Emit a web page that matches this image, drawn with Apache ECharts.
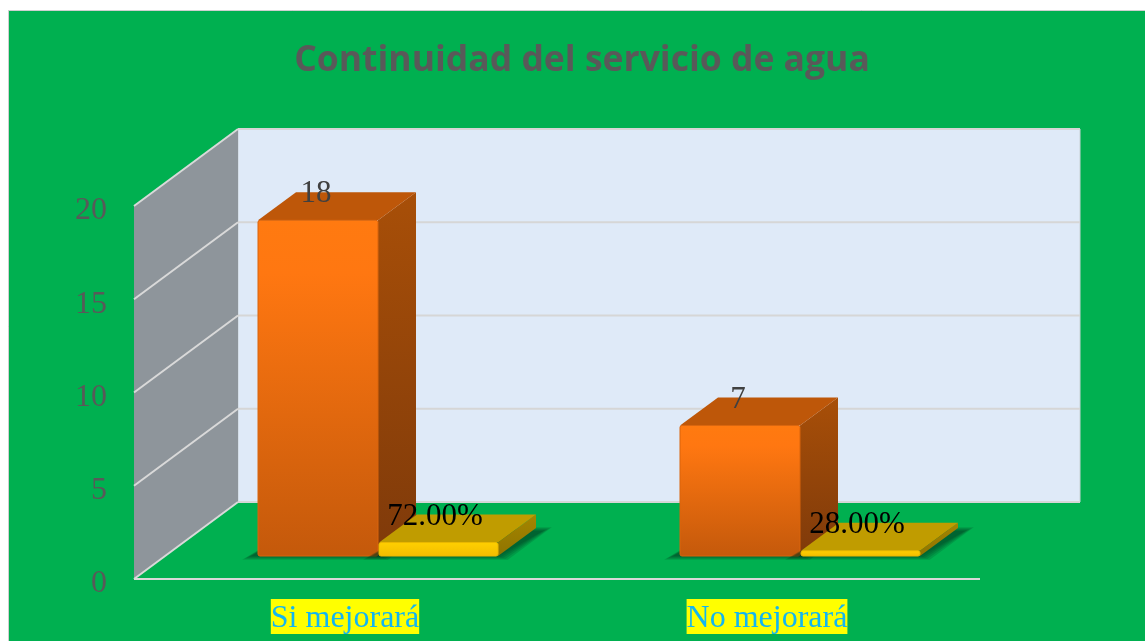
<!DOCTYPE html>
<html><head><meta charset="utf-8">
<script src="https://cdn.jsdelivr.net/npm/echarts@6/dist/echarts.min.js"></script>
<style>html,body{margin:0;padding:0;background:#fff;overflow:hidden}#c{width:1145px;height:641px}</style>
</head><body><div id="c"></div>
<script>
var categories = ['Si mejorará', 'No mejorará'];
var counts = [18, 7];
var shares = [0.72, 0.28];
var countLabels = ['18', '7'];
var shareLabels = ['72.00%', '28.00%'];
var yTicks = [0, 5, 10, 15, 20];
var titleText = 'Continuidad del servicio de agua';

var WALL_DX = 104, WALL_DY = -77, WALL_RIGHT_DX = 102;
var BAR_DX = 38, BAR_DY = -28, BASE_DY = -23;
var SERIF = '"Liberation Serif","Times New Roman",serif';
var G = function (a, b) { return new echarts.graphic.LinearGradient(0, 0, 0, 1, [{offset: 0, color: a}, {offset: 1, color: b}]); };
var G2 = function (a, b, c) { return new echarts.graphic.LinearGradient(0, 0, 0, 1, [{offset: 0, color: a}, {offset: .16, color: b}, {offset: 1, color: c}]); };

function poly(pts, style, z2) { return {type: 'polygon', shape: {points: pts}, style: style, z2: z2 || 0}; }
function line(x1, y1, x2, y2, c, w) { return {type: 'line', shape: {x1: x1, y1: y1, x2: x2, y2: y2}, style: {stroke: c, lineWidth: w, fill: null}}; }

function renderFrame(params, api) {
  var z0 = api.coord([0, 0]), band = api.size([1, 0])[0];
  var xL = z0[0] - band / 2, xR = xL + 2 * band;
  var top = api.coord([0, yTicks[yTicks.length - 1]])[1], y0 = z0[1];
  var bx = xL + WALL_DX, bxR = xR + WALL_RIGHT_DX;
  var kids = [
    poly([[bx, top + WALL_DY], [bxR, top + WALL_DY], [bxR, y0 + WALL_DY], [bx, y0 + WALL_DY]], {fill: '#DFEAF8', stroke: '#C9D2D6', lineWidth: 1}),
    poly([[xL, top], [bx, top + WALL_DY], [bx, y0 + WALL_DY], [xL, y0]], {fill: '#8E959B'})
  ];
  yTicks.forEach(function (t) {
    var y = api.coord([0, t])[1];
    kids.push(line(xL, y, bx, y + WALL_DY, '#D9D9D9', 2));
    kids.push(line(bx, y + WALL_DY, bxR, y + WALL_DY, '#D6D6D6', 2));
  });
  kids.push(line(xL, y0, xR + 2, y0, '#D9D9D9', 2));
  return {type: 'group', children: kids};
}

function renderBox(opts) {
  return function (params, api) {
    var idx = api.value(0), val = api.value(1);
    var p = api.coord([idx, val]), base = api.coord([idx, 0]);
    var yb = base[1] + BASE_DY, yt = p[1] + BASE_DY;
    var x1 = p[0] + opts.from, x2 = p[0] + opts.to;
    var dx = BAR_DX, dy = BAR_DY;
    var kids = [];
    for (var k = 4; k >= 0; k--) {
      var g = k * 2.2;
      kids.push(poly([[x1 - 7 - g, yb + g * 0.42], [x2 + 1 + g, yb + g * 0.42], [x2 + dx + 7 + g, yb + dy + 3 - g * 0.42], [x1 + dx, yb + dy + 3 - g * 0.42]],
        {fill: 'rgba(0,55,28,0.17)'}, 0));
    }
    kids.push(
      poly([[x2, yt], [x2 + dx, yt + dy], [x2 + dx, yb + dy], [x2, yb]], {fill: G(opts.sideTop, opts.sideBot)}, 1),
      poly([[x1, yt], [x1 + dx, yt + dy], [x2 + dx, yt + dy], [x2, yt]], {fill: opts.topFace}, 1),
      {type: 'rect', shape: {x: x1, y: yt, width: x2 - x1, height: yb - yt, r: 2},
       style: {fill: opts.frontFill(yb - yt), stroke: opts.edge, lineWidth: 1}, z2: 2}
    );
    return {type: 'group', children: kids};
  };
}

function renderText(labels, dxT, dyT, color) {
  return function (params, api) {
    var idx = api.value(0), p = api.coord([idx, api.value(1)]);
    return {type: 'text', x: p[0] + dxT, y: p[1] + dyT, z2: 50,
      style: {text: labels[idx], fill: color, font: '31px ' + SERIF, textAlign: 'center', textVerticalAlign: 'middle'}};
  };
}

var countData = counts.map(function (v, i) { return [i, v]; });
var shareData = shares.map(function (v, i) { return [i, v]; });

var option = {
  animation: false,
  backgroundColor: '#fff',
  graphic: [{type: 'rect', z: -10, shape: {x: 8.5, y: 10.5, width: 1140, height: 640},
    style: {fill: '#00B050', stroke: '#CFCFCF', lineWidth: 1}}],
  title: {text: titleText, left: 577, top: 38, textAlign: 'center',
    textStyle: {color: '#595959', fontFamily: '"Open Sans"', fontWeight: 'bold', fontSize: 35.5}},
  grid: {left: 134, right: 167, top: 206, bottom: 62},
  xAxis: {type: 'category', data: categories,
    axisLine: {show: false}, axisTick: {show: false},
    axisLabel: {margin: 20, color: '#12B5F2', fontFamily: SERIF, fontSize: 32, backgroundColor: '#FFFF00', lineHeight: 31, height: 31, padding: [4, 0, 0, 0]}},
  yAxis: {type: 'value', min: 0, max: 20, interval: 5,
    axisLine: {show: false}, axisTick: {show: false}, splitLine: {show: false},
    axisLabel: {margin: 27, color: '#595959', fontFamily: SERIF, fontSize: 32, padding: [0, 0, 0, 0], verticalAlign: 'top', lineHeight: 10, height: 10}},
  series: [
    {type: 'custom', name: 'frame', coordinateSystem: 'cartesian2d', clip: false, z: 2, silent: true,
     data: [[0, 0]], encode: {x: 0, y: 1}, renderItem: renderFrame},
    {type: 'custom', name: 'Cantidad', coordinateSystem: 'cartesian2d', clip: false, z: 3, silent: true,
     data: countData, encode: {x: 0, y: 1},
     renderItem: renderBox({from: -87, to: 33, sideTop: '#A84F08', sideBot: '#7F3A0A', topFace: '#BE5709', edge: '#D9640C',
       frontFill: function () { return G2('#FF7A10', '#FF7711', '#C4590B'); }})},
    {type: 'custom', name: 'Porcentaje', coordinateSystem: 'cartesian2d', clip: false, z: 4, silent: true,
     data: shareData, encode: {x: 0, y: 1},
     renderItem: renderBox({from: 34, to: 153, sideTop: '#A58500', sideBot: '#8F7400', topFace: '#C09C00', edge: '#EDB900',
       frontFill: function () { return G('#FFD000', '#F2BC00'); }})},
    {type: 'custom', name: 'Etiquetas cantidad', coordinateSystem: 'cartesian2d', clip: false, z: 5, silent: true,
     data: countData, encode: {x: 0, y: 1}, renderItem: renderText(countLabels, -29, -49, '#404040')},
    {type: 'custom', name: 'Etiquetas porcentaje', coordinateSystem: 'cartesian2d', clip: false, z: 5, silent: true,
     data: shareData, encode: {x: 0, y: 1}, renderItem: renderText(shareLabels, 90, -49, '#000000')}
  ]
};
echarts.init(document.getElementById('c')).setOption(option);
</script></body></html>
